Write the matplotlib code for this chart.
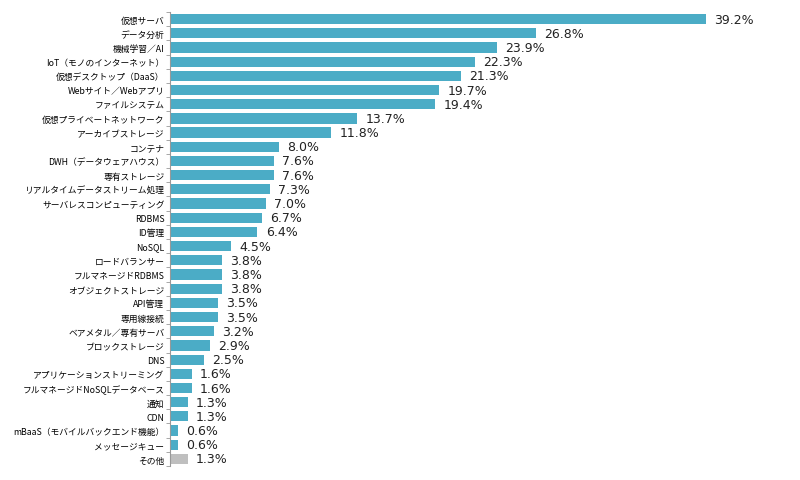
import matplotlib
matplotlib.use("Agg")
import matplotlib.pyplot as plt
import numpy as np

plt.rcParams["font.family"] = ["Noto Sans CJK JP", "DejaVu Sans"]

labels = [
    "仮想サーバ", "データ分析", "機械学習／AI", "IoT（モノのインターネット）",
    "仮想デスクトップ（DaaS）", "Webサイト／Webアプリ", "ファイルシステム",
    "仮想プライベートネットワーク", "アーカイブストレージ", "コンテナ",
    "DWH（データウェアハウス）", "専有ストレージ", "リアルタイムデータストリーム処理",
    "サーバレスコンピューティング", "RDBMS", "ID管理", "NoSQL", "ロードバランサー",
    "フルマネージドRDBMS", "オブジェクトストレージ", "API管理", "専用線接続",
    "ベアメタル／専有サーバ", "ブロックストレージ", "DNS",
    "アプリケーションストリーミング", "フルマネージドNoSQLデータベース", "通知", "CDN",
    "mBaaS（モバイルバックエンド機能）", "メッセージキュー", "その他",
]
values = [39.2, 26.8, 23.9, 22.3, 21.3, 19.7, 19.4, 13.7, 11.8, 8.0,
          7.6, 7.6, 7.3, 7.0, 6.7, 6.4, 4.5, 3.8, 3.8, 3.8, 3.5, 3.5,
          3.2, 2.9, 2.5, 1.6, 1.6, 1.3, 1.3, 0.6, 0.6, 1.3]

colors = ["#4BACC6"] * (len(values) - 1) + ["#BFBFBF"]

fig = plt.figure(figsize=(8, 4.81), dpi=100)
ax = fig.add_axes([0.2125, 0.029, 0.777, 0.944])

y = np.arange(len(values))
ax.barh(y, values, height=0.72, color=colors)
ax.set_ylim(len(values) - 0.5, -0.5)
ax.set_xlim(0, 45.5)

for yi, v in zip(y, values):
    ax.text(v + 0.6, yi, f"{v:.1f}%", va="center", ha="left", fontsize=9,
            color="#222222", family=["DejaVu Sans"])

ax.set_yticks(y)
ax.set_yticklabels(labels, fontsize=6.3)
ax.tick_params(axis="y", which="major", length=0, pad=4)
ax.set_yticks(np.arange(-0.5, len(values)), minor=True)
ax.tick_params(axis="y", which="minor", length=3, color="#999999")
ax.set_xticks([])

for s in ["top", "right", "bottom"]:
    ax.spines[s].set_visible(False)
ax.spines["left"].set_color("#999999")

fig.savefig("out.png", dpi=100)
